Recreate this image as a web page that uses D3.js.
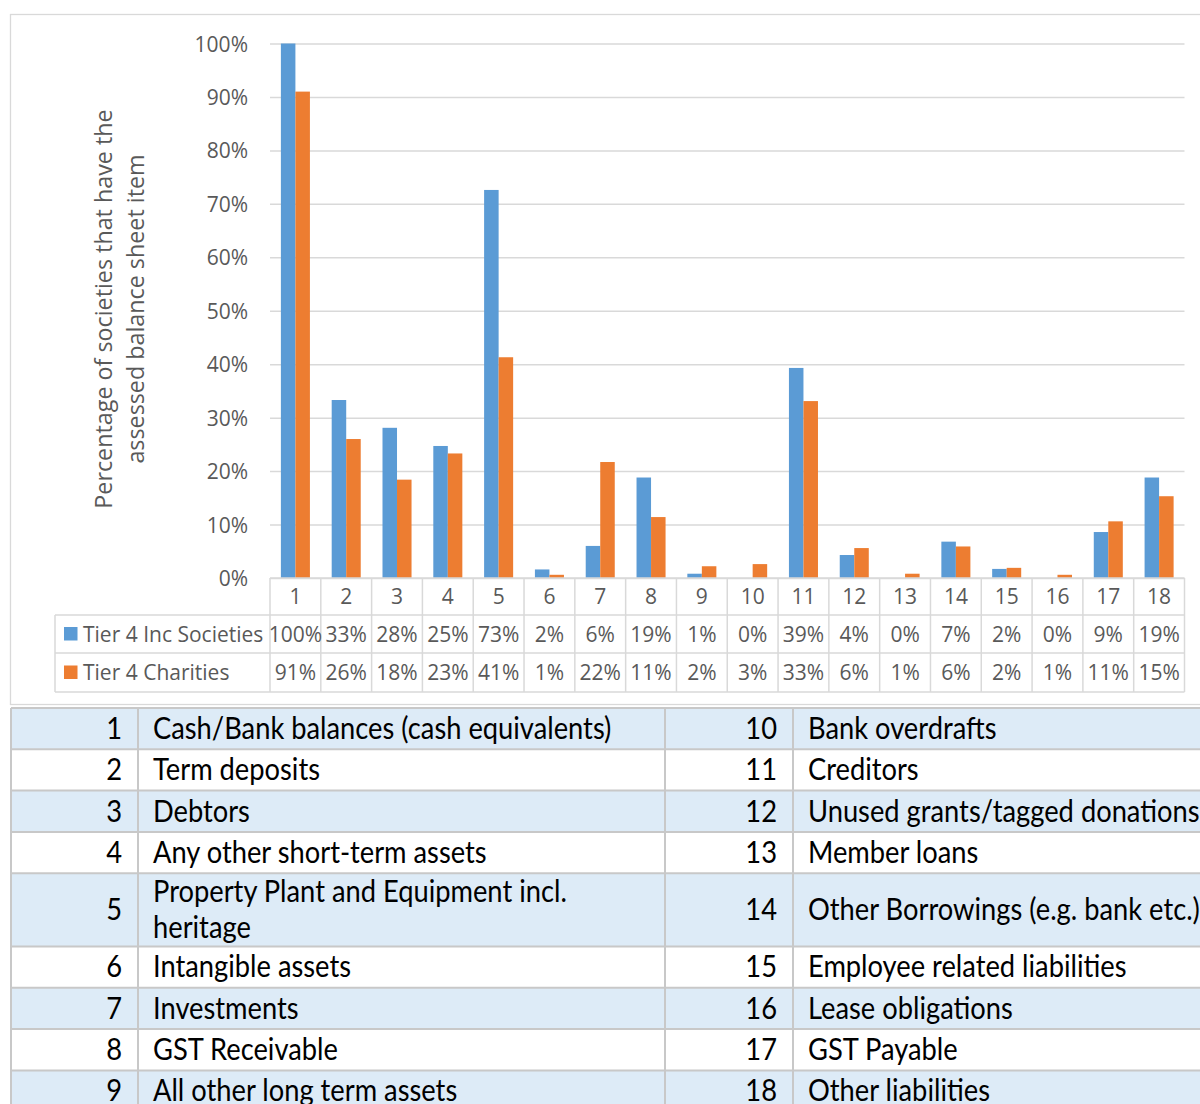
<!DOCTYPE html>
<html>
<head>
<meta charset="utf-8">
<script src="https://cdn.jsdelivr.net/npm/d3@7"></script>
<style>
  html, body { margin: 0; padding: 0; background: #fff; overflow: hidden; }
  svg { display: block; }
</style>
</head>
<body>
<svg id="chart" width="1200" height="1104"></svg>
<script>
// ---- data -------------------------------------------------------------
const categories = ["1","2","3","4","5","6","7","8","9","10","11","12","13","14","15","16","17","18"];
const seriesNames = ["Tier 4 Inc Societies", "Tier 4 Charities"];
const societies = [100, 33.3, 28.1, 24.7, 72.6, 1.6, 6.0, 18.8, 0.8, 0, 39.3, 4.3, 0, 6.8, 1.7, 0, 8.6, 18.8];
const charities = [91.0, 26.0, 18.4, 23.3, 41.3, 0.6, 21.7, 11.4, 2.2, 2.6, 33.1, 5.6, 0.8, 5.9, 1.9, 0.6, 10.6, 15.3];
const yTicks = [0, 10, 20, 30, 40, 50, 60, 70, 80, 90, 100];
const yTitle = ["Percentage of societies that have the", "assessed balance sheet item"];
const itemNames = [
  "Cash/Bank balances (cash equivalents)",
  "Term deposits",
  "Debtors",
  "Any other short-term assets",
  "Property Plant and Equipment incl. heritage",
  "Intangible assets",
  "Investments",
  "GST Receivable",
  "All other long term assets",
  "Bank overdrafts",
  "Creditors",
  "Unused grants/tagged donations",
  "Member loans",
  "Other Borrowings (e.g. bank etc.)",
  "Employee related liabilities",
  "Lease obligations",
  "GST Payable",
  "Other liabilities"
];

const seriesValues = { "Tier 4 Inc Societies": societies, "Tier 4 Charities": charities };
const seriesColor = d3.scaleOrdinal().domain(seriesNames).range(["#5b9bd5", "#ed7d31"]);
const pct = v => d3.format(".0f")(v) + "%";

// ---- styles -----------------------------------------------------------
const chartFont = "'Open Sans', 'Noto Sans', sans-serif";
const chartFontSize = 21;
const chartText = "#595959";
const gridColor = "#d9d9d9";
const tableFont = "Lato, 'Liberation Sans', sans-serif";
const tableFontSize = 30;
const tableSX = 0.91;       // horizontal squeeze for the item table text
const tableBorder = "#c8c8c8";
const bandFill = "#ddebf7";

const svg = d3.select("#chart");

// text helper: places text with an optional horizontal squeeze
function addText(g, x, y, str, o = {}) {
  const sx = o.sx || 1;
  return g.append("text")
    .attr("transform", `translate(${x},${y}) scale(${sx},1)`)
    .attr("text-anchor", o.anchor || "start")
    .attr("font-family", o.font || chartFont)
    .attr("font-size", o.size || chartFontSize)
    .attr("fill", o.fill || chartText)
    .text(str);
}

// ---- chart frame ------------------------------------------------------
svg.append("rect")
  .attr("x", 10.5).attr("y", 14.5)
  .attr("width", 1200).attr("height", 690)
  .attr("fill", "#fff").attr("stroke", gridColor).attr("stroke-width", 1.3);

const plot = { left: 270, right: 1184.5, top: 43.5, bottom: 578 };

const x = d3.scaleBand().domain(categories).range([plot.left, plot.right]).paddingInner(0).paddingOuter(0);
const step = x.step();
const sideGap = step * 0.75 / 3.5;                 // gap width 150%
const x1 = d3.scaleBand().domain(seriesNames).range([sideGap, step - sideGap]).padding(0);
const y = d3.scaleLinear().domain([0, 100]).range([plot.bottom, plot.top]);

// gridlines + tick labels
const yAxis = d3.axisLeft(y)
  .tickValues(yTicks)
  .tickFormat(d => d + "%")
  .tickSize(-(plot.right - plot.left))
  .tickPadding(22);

const gy = svg.append("g").attr("transform", `translate(${plot.left},0)`).call(yAxis);
gy.select(".domain").remove();
gy.selectAll(".tick line").attr("stroke", gridColor).attr("stroke-width", 1.5);
gy.selectAll(".tick text")
  .attr("font-family", chartFont).attr("font-size", chartFontSize)
  .attr("fill", chartText).attr("dy", "0.36em");

// y title
const titleG = svg.append("g").attr("transform", "translate(0,309) rotate(-90)");
yTitle.forEach((line, i) => {
  titleG.append("text")
    .attr("x", 0).attr("y", 112 + i * 32)
    .attr("text-anchor", "middle")
    .attr("font-family", chartFont).attr("font-size", 23.3)
    .attr("fill", chartText)
    .text(line);
});

// bars
const barData = [];
categories.forEach((c, i) => seriesNames.forEach(s => barData.push({ c, s, v: seriesValues[s][i] })));

svg.append("g").selectAll("rect")
  .data(barData)
  .join("rect")
  .attr("x", d => x(d.c) + x1(d.s))
  .attr("y", d => y(d.v))
  .attr("width", x1.bandwidth())
  .attr("height", d => y(0) - y(d.v))
  .attr("fill", d => seriesColor(d.s));

// ---- data table under the plot ----------------------------------------
const rowTop = [578, 615, 653, 692];  // category row, series rows
const legendLeft = 55;
const dt = svg.append("g");
const line = (x1_, y1_, x2_, y2_) => dt.append("line")
  .attr("x1", x1_).attr("y1", y1_).attr("x2", x2_).attr("y2", y2_)
  .attr("stroke", gridColor).attr("stroke-width", 1.5);

line(plot.left, rowTop[0], plot.right, rowTop[0]);
line(legendLeft, rowTop[1], plot.right, rowTop[1]);
line(legendLeft, rowTop[2], plot.right, rowTop[2]);
line(legendLeft, rowTop[3], plot.right, rowTop[3]);
line(legendLeft, rowTop[1], legendLeft, rowTop[3]);
categories.forEach(c => line(x(c), rowTop[0], x(c), rowTop[3]));
line(plot.right, rowTop[0], plot.right, rowTop[3]);

categories.forEach(c => addText(dt, x(c) + step / 2, 604, c, { anchor: "middle" }));

seriesNames.forEach((s, j) => {
  const base = j === 0 ? 641.5 : 680;
  dt.append("rect")
    .attr("x", 64).attr("y", base - 14.5)
    .attr("width", 13.5).attr("height", 13.5)
    .attr("fill", seriesColor(s));
  addText(dt, 83, base, s);
  categories.forEach((c, i) => addText(dt, x(c) + step / 2, base, pct(seriesValues[s][i]), { anchor: "middle" }));
});

// ---- item key table ---------------------------------------------------
const kt = svg.append("g");
const cols = [11, 138, 665, 793, 1215];
const half = itemNames.length / 2;
const textMax = cols[2] - cols[1] - 32;

// split item names into lines that fit their column
const measure = kt.append("text")
  .attr("font-family", tableFont).attr("font-size", tableFontSize).attr("visibility", "hidden");
function wrap(str) {
  const words = str.split(" ");
  const lines = [];
  let cur = "";
  words.forEach(w => {
    const test = cur ? cur + " " + w : w;
    measure.text(test);
    if (cur && measure.node().getComputedTextLength() * tableSX > textMax) {
      lines.push(cur);
      cur = w;
    } else cur = test;
  });
  lines.push(cur);
  return lines;
}
const wrapped = itemNames.map(wrap);
measure.remove();

const oneLine = 41.3, extraLine = 32, lineGap = 36;
let yTop = 708;
const rowsY = [];
for (let r = 0; r < half; r++) {
  const nLines = Math.max(wrapped[r].length, wrapped[r + half].length);
  const h = oneLine + (nLines - 1) * extraLine;
  rowsY.push({ top: yTop, h });
  yTop += h;
}

rowsY.forEach((row, r) => {
  kt.append("rect")
    .attr("x", cols[0]).attr("y", row.top)
    .attr("width", cols[4] - cols[0]).attr("height", row.h)
    .attr("fill", r % 2 === 0 ? bandFill : "#fff");
});

// grid of the key table
rowsY.forEach(row => {
  kt.append("line").attr("x1", cols[0]).attr("x2", cols[4])
    .attr("y1", row.top).attr("y2", row.top)
    .attr("stroke", tableBorder).attr("stroke-width", 2);
});
cols.slice(0, 4).forEach(cx => {
  kt.append("line").attr("x1", cx).attr("x2", cx)
    .attr("y1", 708).attr("y2", yTop)
    .attr("stroke", tableBorder).attr("stroke-width", 2);
});

const capHalf = 10.8;
rowsY.forEach((row, r) => {
  [0, 1].forEach(side => {
    const idx = r + side * half;
    const numRight = cols[side * 2 + 1] - 16;
    const textLeft = cols[side * 2 + 1] + 15;
    const mid = row.top + row.h / 2;
    addText(kt, numRight, mid + capHalf - 0.5, String(idx + 1),
      { anchor: "end", font: tableFont, size: tableFontSize, sx: tableSX, fill: "#000" });
    const lines = wrapped[idx];
    const first = mid - (lines.length - 1) * lineGap / 2;
    lines.forEach((ln, k) => {
      addText(kt, textLeft, first + k * lineGap + capHalf - 0.5, ln,
        { font: tableFont, size: tableFontSize, sx: tableSX, fill: "#000" });
    });
  });
});
</script>
</body>
</html>
